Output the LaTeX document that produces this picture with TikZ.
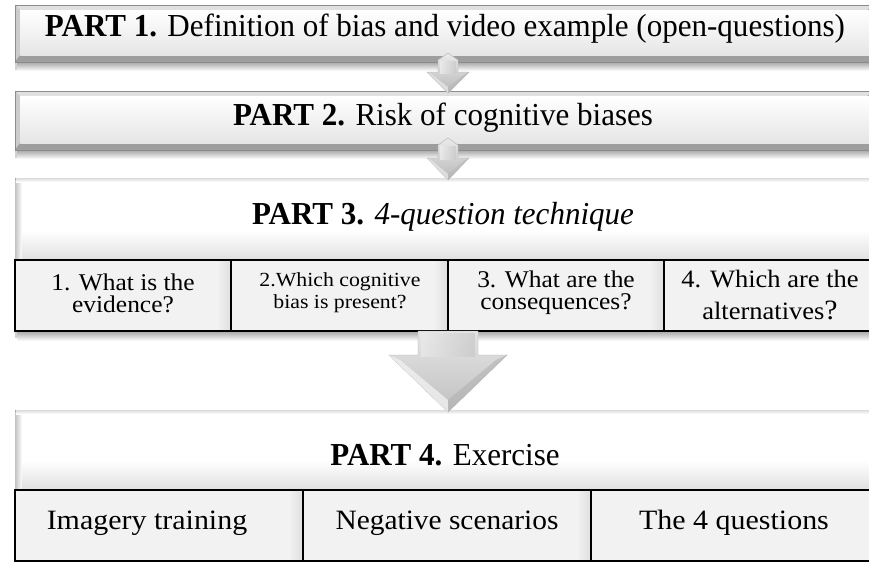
\documentclass[tikz,border=0pt]{standalone}
\usepackage{fontspec}
\setmainfont{Liberation Serif}
\usetikzlibrary{shadings}
\newcommand\cond[2][0.97]{\scalebox{#1}[1]{#2}}
\tikzset{
  txt/.style={inner sep=0pt, align=center, text=black},
  bigtxt/.style={txt, font=\fontsize{32}{34}\selectfont},
  celltxt/.style={txt, font=\fontsize{24}{22}\selectfont},
  rowtxt/.style={txt, font=\fontsize{28}{30}\selectfont},
  cellfill/.style={fill=black!5},
  cellline/.style={draw=black, line width=1.6pt},
  arrowface/.style={draw=black!30, line width=0.4pt}
}
% a bevelled bar from (#1,#2) to (#3,#4), bevel width #5
\newcommand\bevelbar[5]{%
  \fill[black!18] (#1,#4) rectangle (#3,#4+8);
  \shade[top color=black!35, bottom color=white] (#1+2,#4) rectangle (#3,#4+9);
  \fill[black!30] (#1,#2) rectangle (#3,#4);
  \fill[black!12] (#1,#2) -- (#3,#2) -- (#3-#5,#2+#5) -- (#1+#5,#2+#5) -- cycle;
  \fill[black!20] (#1,#2) -- (#1+#5,#2+#5) -- (#1+#5,#4-#5-2) -- (#1,#4) -- cycle;
  \fill[black!38] (#1,#4) -- (#1+#5,#4-#5-2) -- (#3,#4-#5-2) -- (#3,#4) -- cycle;
  \shade[top color=white, bottom color=black!10] (#1+#5,#2+#5) rectangle (#3,#4-#5-2);
  \draw[black!45, line width=0.8pt] (#3,#2) -- (#1,#2) -- (#1,#4) -- (#3,#4);
}
% header panel with soft left/top bevel
\newcommand\panel[4]{%
  \fill[white] (#1,#2) rectangle (#3,#4);
  \draw[black!35, line width=1pt] (#1,#4) -- (#1,#2) -- (#3,#2);
  \shade[left color=black!22, right color=white] (#1+0.5,#2+1) rectangle (#1+7,#4);
  \shade[top color=black!12, bottom color=white] (#1+1,#2+0.5) rectangle (#3,#2+4);
  \shade[top color=white, bottom color=black!12] (#1+7,#4-30) rectangle (#3,#4);
}
% a bevelled down arrow: centre x, shaft half width, shaft top, head top, head half width, tip
\newcommand\partarrow[6]{%
  \shade[top color=black!8, bottom color=black!28, arrowface]
    (#1-#2,#3+7) -- (#1,#3) -- (#1+#2,#3+7) -- (#1+#2,#4) -- (#1+#5,#4) -- (#1,#6)
    -- (#1-#5,#4) -- (#1-#2,#4) -- cycle;
  \fill[black!10, opacity=0.8] (#1-#5,#4) -- (#1-#5+4,#4+2) -- (#1,#6-6) -- (#1,#6) -- cycle;
  \fill[black!28, opacity=0.6] (#1+#5,#4) -- (#1+#5-4,#4+2) -- (#1,#6-6) -- (#1,#6) -- cycle;
  \shade[left color=black!6, right color=black!22, opacity=0.7]
    (#1-#2+2,#3+8) rectangle (#1+#2-2,#4+1);
}
\begin{document}
\begin{tikzpicture}[x=1pt, y=-1pt]
  \useasboundingbox (0,0) rectangle (869,563);
  \fill[white] (0,0) rectangle (869,563);

  % Part 1 and Part 2 bars
  \bevelbar{15}{5}{872}{62}{5}
  \node[bigtxt] (p1) at (445,29) {\cond{\textbf{PART 1.} Definition of bias and video example (open-questions)}};
  \bevelbar{15}{91}{872}{150}{5}
  \node[bigtxt] (p2) at (443,118) {\cond{\textbf{PART 2.} Risk of cognitive biases}};

  % Part 3: header and the four questions
  \fill[black!18] (15,331) rectangle (872,338);
  \shade[top color=black!35, bottom color=white] (17,331) rectangle (872,341);
  \panel{15}{178}{872}{260}
  \node[bigtxt] (p3) at (443,217) {\cond{\textbf{PART 3.} \textit{4-question technique}}};
  \fill[cellfill] (15,260) rectangle (872,331);
  \foreach \xa in {231,448,664}{
    \shade[left color=black!5, right color=black!13] (\xa-14,261) rectangle (\xa,330);
  }
  \draw[cellline] (872,260) -- (15,260) -- (15,331) -- (872,331);
  \foreach \xa in {231,448,664}{
    \draw[cellline] (\xa,260) -- (\xa,331);
  }
  \node[celltxt] (q1) at (123,293) {\cond[1.06]{1. What is the}\\\cond[1.06]{evidence?}};
  \node[celltxt, font=\fontsize{20}{22}\selectfont] (q2) at (340,293) {\cond[1.09]{2.Which cognitive}\\\cond[1.09]{bias is present?}};
  \node[celltxt] (q3) at (556,293) {\cond[1.06]{3. What are the}\\\cond[1.06]{consequences?}};
  \node[celltxt, font=\fontsize{25}{32}\selectfont] (q4) at (770,295)
    {\cond[1.06]{4. Which are the}\\\cond[1.06]{alternatives{\fontsize{28}{30}\selectfont ?}}};

  % Part 4: header and the three exercises
  \panel{15}{410}{872}{490}
  \node[bigtxt] (p4) at (445,455) {\cond{\textbf{PART 4.} Exercise}};
  \fill[cellfill] (15,490) rectangle (872,561);
  \foreach \xa in {303,591}{
    \shade[left color=black!5, right color=black!13] (\xa-14,491) rectangle (\xa,560);
  }
  \draw[cellline] (872,490) -- (15,490) -- (15,561) -- (872,561);
  \foreach \xa in {303,591}{
    \draw[cellline] (\xa,490) -- (\xa,561);
  }
  \node[rowtxt] (e1) at (147,523) {\cond[1.07]{Imagery training}};
  \node[rowtxt] (e2) at (447,523) {\cond[1.05]{Negative scenarios}};
  \node[rowtxt] (e3) at (734,523) {\cond[1.07]{The 4 questions}};

  % arrows between the parts
  \partarrow{448}{10}{53}{72}{21}{93}
  \partarrow{448}{10}{138}{158}{21}{180}
  \shade[top color=black!10, bottom color=black!25, arrowface]
    (418,331) -- (478,331) -- (478,355) -- (507,355) -- (448,412) -- (389,355) -- (418,355) -- cycle;
  \fill[black!6, opacity=0.8] (389,355) -- (400,360) -- (448,400) -- (448,412) -- cycle;
  \fill[black!30, opacity=0.6] (507,355) -- (496,360) -- (448,400) -- (448,412) -- cycle;
  \shade[left color=black!8, right color=black!22, opacity=0.7] (421,333) rectangle (475,356);
\end{tikzpicture}
\end{document}
